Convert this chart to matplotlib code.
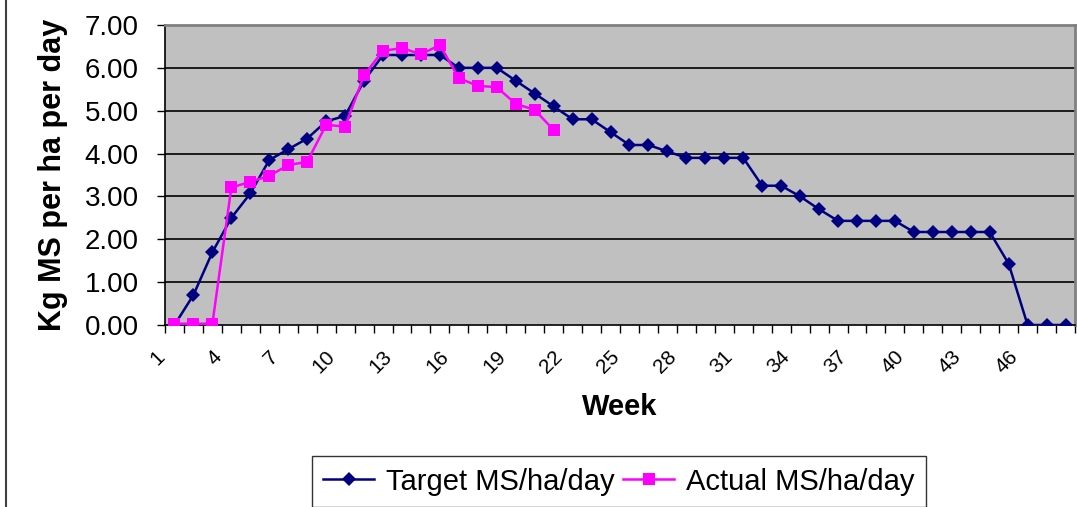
import numpy as np
from matplotlib import pyplot as plt
from matplotlib.lines import Line2D
from matplotlib.transforms import ScaledTranslation

# weekly values
weeks = np.arange(1, 49)
target = [0.0, 0.7, 1.7, 2.5, 3.07, 3.85, 4.1, 4.35, 4.75, 4.88,
          5.7, 6.3, 6.3, 6.3, 6.3, 6.0, 6.0, 6.0, 5.7, 5.4,
          5.1, 4.8, 4.8, 4.5, 4.2, 4.2, 4.05, 3.9, 3.9, 3.9,
          3.9, 3.25, 3.25, 3.0, 2.7, 2.43, 2.43, 2.43, 2.43, 2.17,
          2.17, 2.17, 2.17, 2.17, 1.43, 0.0, 0.0, 0.0]
actual = [0.03, 0.03, 0.03, 3.21, 3.34, 3.48, 3.73, 3.81, 4.67, 4.63,
          5.83, 6.40, 6.46, 6.32, 6.53, 5.76, 5.58, 5.55, 5.16, 5.02,
          4.55]
label_weeks = list(range(1, 47, 3))
y_ticks = [0, 1, 2, 3, 4, 5, 6, 7]

plt.rcParams['font.family'] = ['Liberation Sans', 'DejaVu Sans']

fig = plt.figure(figsize=(10.77, 5.07), dpi=100)
ax = fig.add_axes([165/1077, 182/507, 910/1077, 300/507])
ax.set_facecolor('#c0c0c0')

for y in y_ticks[1:]:
    ax.axhline(y, color='black', linewidth=1.2, zorder=1)

ax.plot(weeks, target, '-D', color='#000080', linewidth=1.8,
        markersize=7, markeredgewidth=0, label='Target MS/ha/day', zorder=3)
ax.plot(weeks[:len(actual)], actual, '-s', color='#ff00ff', linewidth=1.8,
        markersize=8.5, markeredgewidth=0, label='Actual MS/ha/day', zorder=3)

ax.set_xlim(0.5, 48.5)
ax.set_ylim(0, 7)
ax.set_yticks(y_ticks)
ax.set_yticklabels(['%.2f' % v for v in y_ticks], fontsize=20)
ax.tick_params(axis='y', direction='out', length=6, width=1, pad=13)

ax.set_xticks(np.arange(0.5, 49, 1), minor=True)
ax.tick_params(axis='x', which='major', length=0, pad=0)
ax.tick_params(axis='x', which='minor', direction='out', length=6, width=1)
ax.set_xticks(label_weeks)
ax.set_xticklabels([str(w) for w in label_weeks], fontsize=15, rotation=45,
                   ha='right', va='center', rotation_mode='anchor')
# excel puts the rotated labels a bit left of and below the category centre
offset = ScaledTranslation(-13/100, -29/100, fig.dpi_scale_trans)
for lbl in ax.get_xticklabels():
    lbl.set_transform(lbl.get_transform() + offset)

for side in ['top', 'right']:
    ax.spines[side].set_color('#808080')
    ax.spines[side].set_linewidth(2)
for side in ['left', 'bottom']:
    ax.spines[side].set_color('black')
    ax.spines[side].set_linewidth(1.2)

ax.set_ylabel('Kg MS per ha per day', fontsize=22, fontweight='bold')
ax.yaxis.set_label_coords(-0.107, 0.5)
ax.set_xlabel('Week', fontsize=21, fontweight='bold')
ax.xaxis.set_label_coords(0.5, -0.228)

leg = ax.legend(loc='center', bbox_to_anchor=(619/1077, 25.5/507),
                bbox_transform=fig.transFigure, ncol=2, fontsize=21,
                frameon=True, fancybox=False, handlelength=1.75,
                handletextpad=0.4, columnspacing=0.3, borderpad=0.4)
leg.get_frame().set_edgecolor('black')
leg.get_frame().set_linewidth(1)

# chart area border on the left edge
fig.add_artist(Line2D([6/1077, 6/1077], [0, 1], transform=fig.transFigure,
                      color='#404040', linewidth=1.5))

fig.savefig('out.png', dpi=100)
